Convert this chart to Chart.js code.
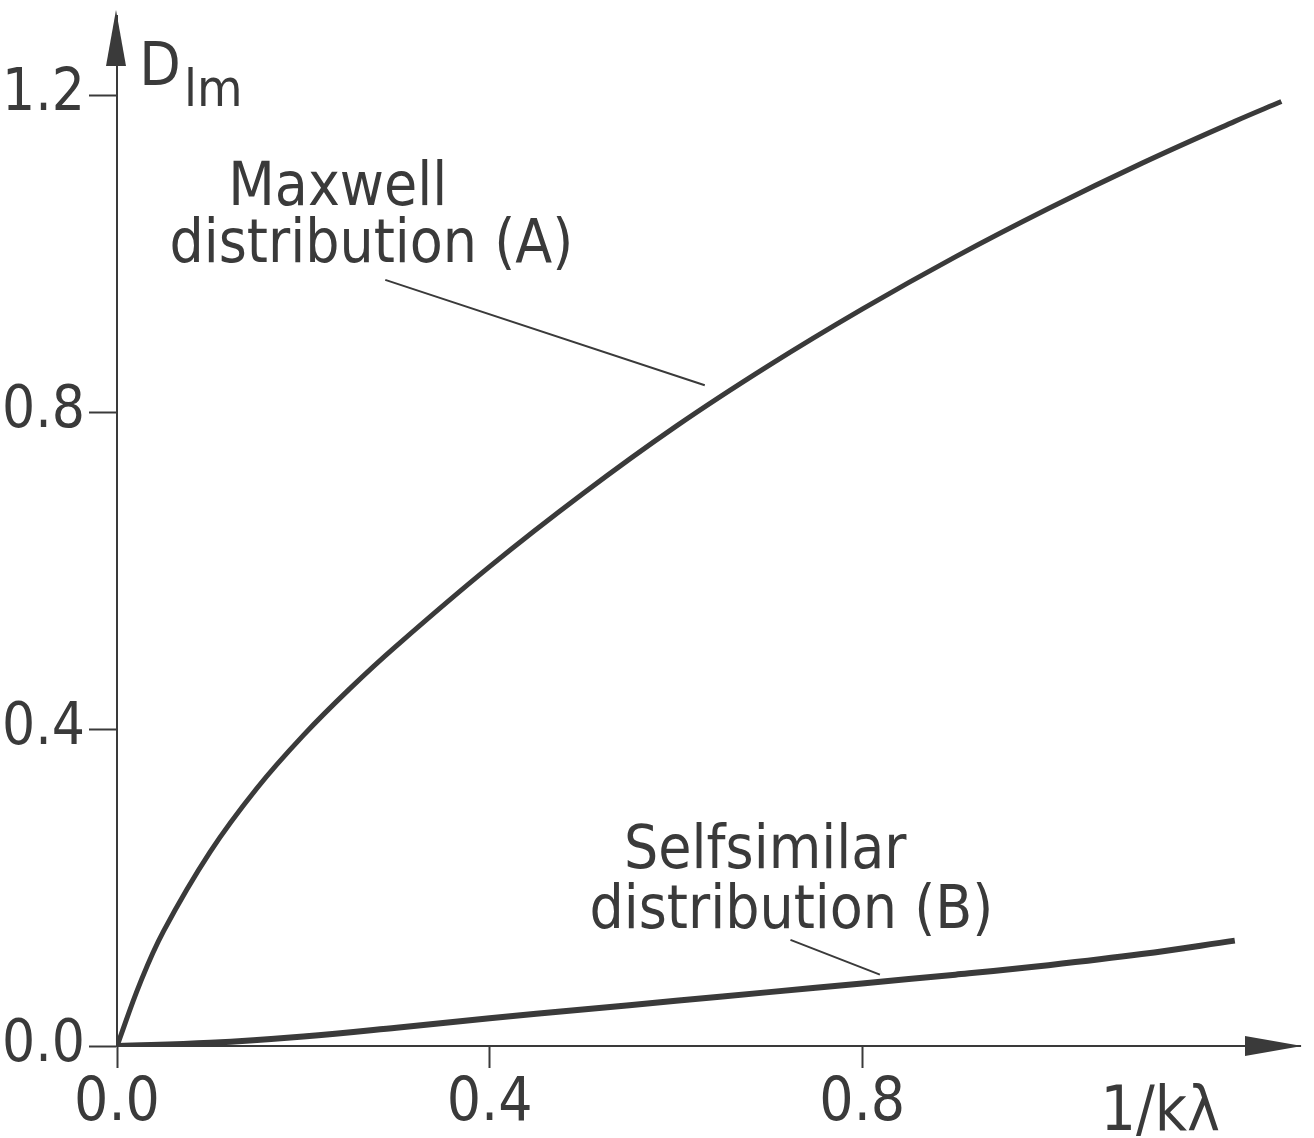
<!DOCTYPE html>
<html>
<head>
<meta charset="utf-8">
<script src="https://cdn.jsdelivr.net/npm/chart.js@4.4.1/dist/chart.umd.min.js"></script>
<style>
  html, body { margin: 0; padding: 0; background: #fff; }
  #wrap { width: 1314px; height: 1138px; }
</style>
</head>
<body>
<div id="wrap"><canvas id="chart" width="1314" height="1138"></canvas></div>
<script>
// values
var xMaxwell = [0, 0.025, 0.05, 0.1, 0.15, 0.2, 0.25, 0.3, 0.4, 0.5, 0.6, 0.7, 0.8, 0.9, 1.0, 1.1, 1.2, 1.25];
var yMaxwell = [0, 0.08, 0.145, 0.245, 0.325, 0.392, 0.451, 0.505, 0.605, 0.697, 0.782, 0.859, 0.93, 0.996, 1.057, 1.114, 1.167, 1.192];

var xSelf = [0, 0.1, 0.2, 0.3, 0.4, 0.5, 0.6, 0.7, 0.8, 0.9, 1.0, 1.1, 1.2];
var ySelf = [0, 0.004, 0.012, 0.023, 0.035, 0.046, 0.057, 0.068, 0.079, 0.09, 0.102, 0.116, 0.133];

var xTicks = [0, 0.4, 0.8];
var yTicks = [0, 0.4, 0.8, 1.2];

var ink = '#3a3a3a';
var fontFam = "'DejaVu Sans Condensed', 'DejaVu Sans', sans-serif";

function toPoints(xs, ys) {
    return xs.map(function(x, i) { return { x: x, y: ys[i] }; });
}

// arrows, axis names and curve labels
var decorPlugin = {
    id: 'decor',
    afterDraw: function(chart) {
        var ctx = chart.ctx;
        var xs = chart.scales.x, ys = chart.scales.y;
        var area = chart.chartArea;
        ctx.save();
        ctx.fillStyle = ink;
        ctx.strokeStyle = ink;

        // y arrow
        ctx.beginPath();
        ctx.moveTo(area.left - 1, area.top - 6);
        ctx.lineTo(area.left - 11, area.top + 50);
        ctx.lineTo(area.left + 9, area.top + 50);
        ctx.closePath();
        ctx.fill();
        // x arrow
        ctx.beginPath();
        ctx.moveTo(area.right + 2, area.bottom);
        ctx.lineTo(area.right - 55, area.bottom - 10);
        ctx.lineTo(area.right - 55, area.bottom + 10);
        ctx.closePath();
        ctx.fill();

        ctx.font = '60px ' + fontFam;
        ctx.textBaseline = 'alphabetic';
        ctx.textAlign = 'center';
        ctx.fillText('Maxwell', xs.getPixelForValue(0.237), ys.getPixelForValue(1.061));
        ctx.fillText('distribution (A)', xs.getPixelForValue(0.273), ys.getPixelForValue(0.989));
        ctx.fillText('Selfsimilar', xs.getPixelForValue(0.696), ys.getPixelForValue(0.225));
        ctx.fillText('distribution (B)', xs.getPixelForValue(0.724), ys.getPixelForValue(0.149));

        // x axis name
        ctx.font = '62px ' + fontFam;
        ctx.fillText('1/k\u03bb', xs.getPixelForValue(1.12), area.bottom + 84);

        // y axis name
        ctx.font = '60px ' + fontFam;
        ctx.textAlign = 'left';
        ctx.fillText('D', xs.getPixelForValue(0.024), ys.getPixelForValue(1.213));
        ctx.font = '52px ' + fontFam;
        ctx.fillText('lm', xs.getPixelForValue(0.072), ys.getPixelForValue(1.186));

        // leader lines
        ctx.lineWidth = 2;
        ctx.beginPath();
        ctx.moveTo(xs.getPixelForValue(0.288), ys.getPixelForValue(0.967));
        ctx.lineTo(xs.getPixelForValue(0.631), ys.getPixelForValue(0.834));
        ctx.moveTo(xs.getPixelForValue(0.723), ys.getPixelForValue(0.134));
        ctx.lineTo(xs.getPixelForValue(0.819), ys.getPixelForValue(0.090));
        ctx.stroke();
        ctx.restore();
    }
};

var ctx = document.getElementById('chart').getContext('2d');
new Chart(ctx, {
    type: 'line',
    data: {
        datasets: [{
            label: 'Maxwell distribution (A)',
            data: toPoints(xMaxwell, yMaxwell),
            borderColor: ink,
            borderWidth: 5,
            pointRadius: 0,
            tension: 0.4,
            fill: false
        }, {
            label: 'Selfsimilar distribution (B)',
            data: toPoints(xSelf, ySelf),
            borderColor: ink,
            borderWidth: 6,
            pointRadius: 0,
            tension: 0.4,
            fill: false
        }]
    },
    options: {
        responsive: false,
        animation: false,
        layout: { padding: { top: 16, right: 14, left: 0, bottom: 0 } },
        plugins: {
            legend: { display: false },
            tooltip: { enabled: false }
        },
        scales: {
            x: {
                type: 'linear',
                min: 0,
                max: 1.27,
                afterBuildTicks: function(axis) {
                    axis.ticks = xTicks.map(function(v) { return { value: v }; });
                },
                afterFit: function(axis) {
                    axis.height = 92;
                    axis.paddingLeft = 0;
                    axis.paddingRight = 0;
                },
                ticks: {
                    color: ink,
                    font: { family: fontFam, size: 60 },
                    padding: 0,
                    maxRotation: 0,
                    callback: function(v) { return v.toFixed(1); }
                },
                grid: {
                    drawOnChartArea: false,
                    tickLength: 22,
                    tickWidth: 2,
                    tickColor: ink
                },
                border: { display: true, color: ink, width: 2 }
            },
            y: {
                type: 'linear',
                min: 0,
                max: 1.3,
                afterBuildTicks: function(axis) {
                    axis.ticks = yTicks.map(function(v) { return { value: v }; });
                },
                afterFit: function(axis) {
                    axis.width = 117;
                    axis.paddingTop = 0;
                    axis.paddingBottom = 0;
                },
                ticks: {
                    color: ink,
                    font: { family: fontFam, size: 58 },
                    padding: 4,
                    callback: function(v) { return v.toFixed(1); }
                },
                grid: {
                    drawOnChartArea: false,
                    tickLength: 28,
                    tickWidth: 2,
                    tickColor: ink
                },
                border: { display: true, color: ink, width: 2 }
            }
        }
    },
    plugins: [decorPlugin]
});
</script>
</body>
</html>
